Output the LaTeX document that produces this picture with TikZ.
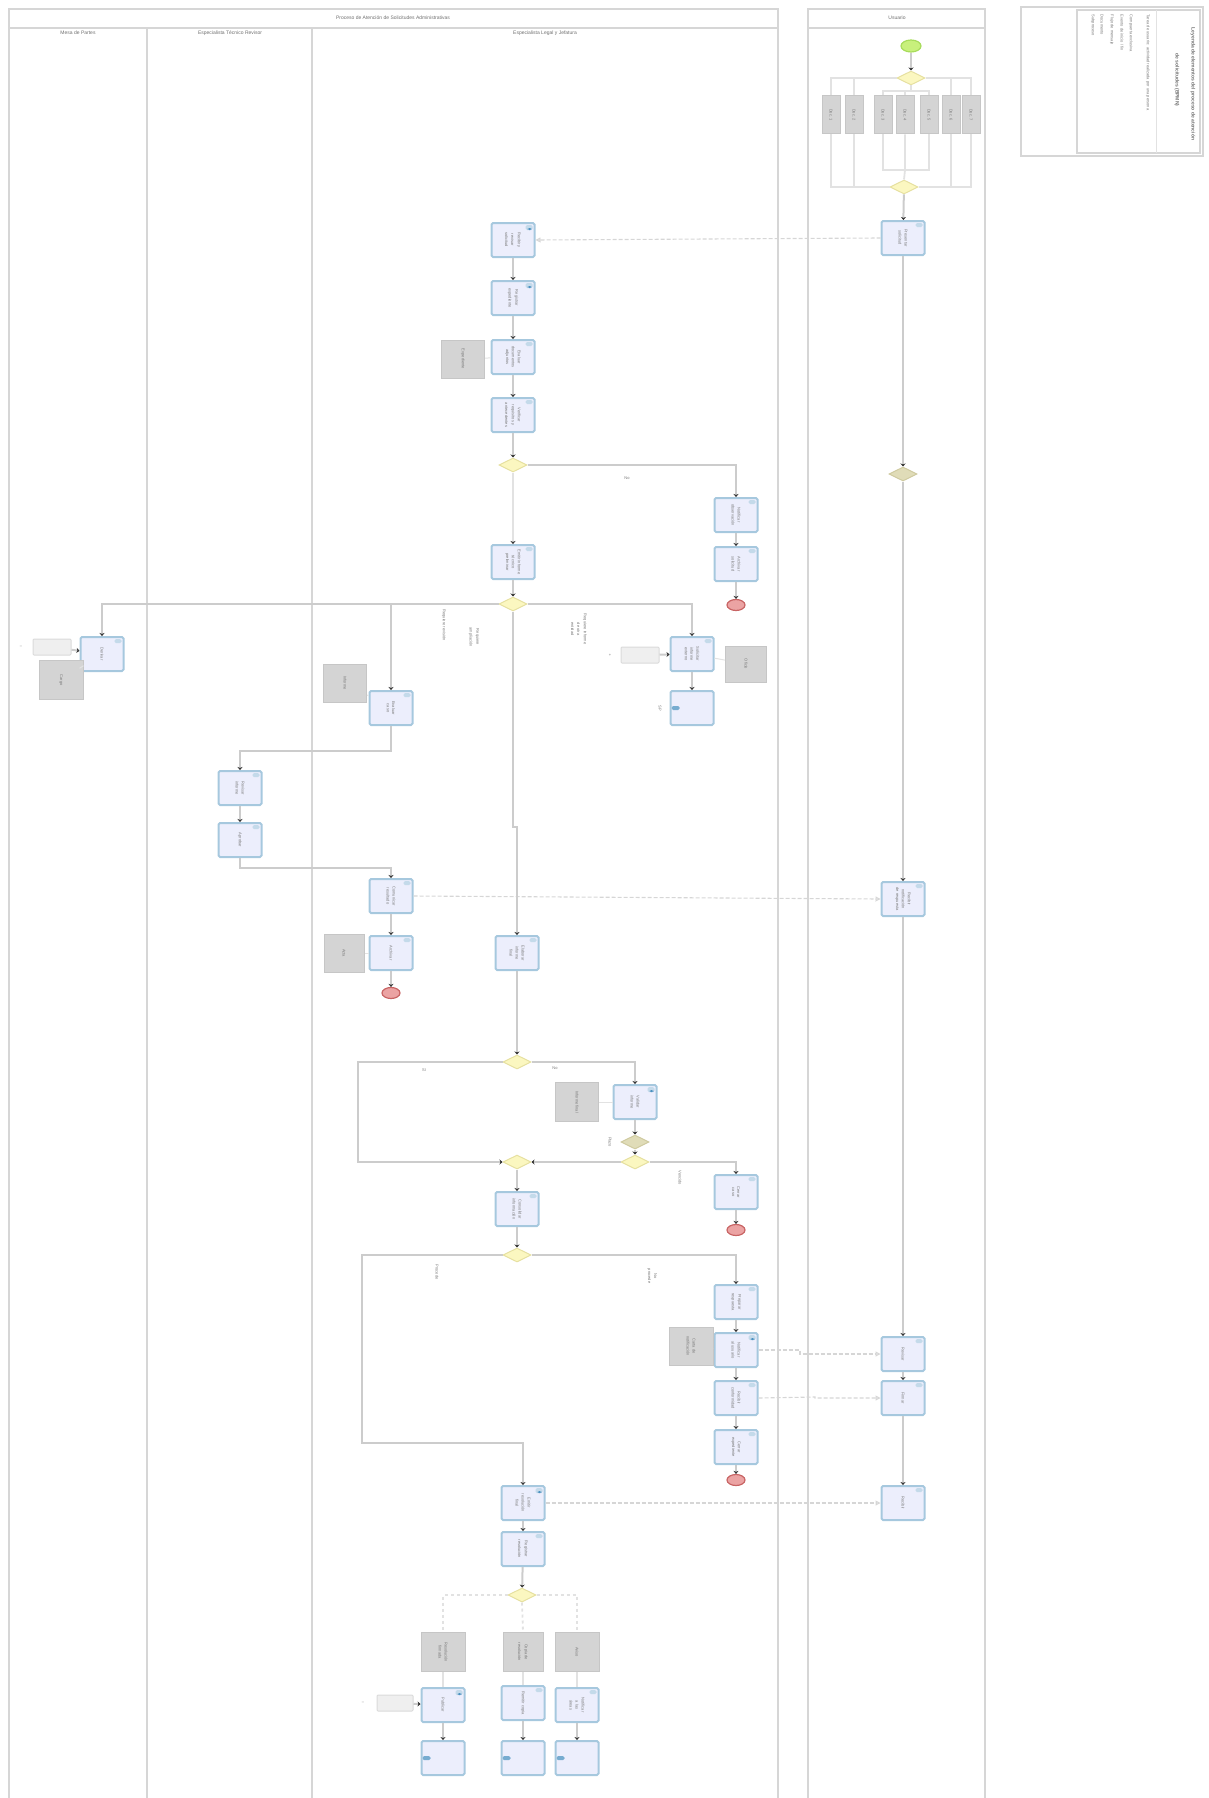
\documentclass[tikz,border=0pt]{standalone}
\usepackage{fontspec}
\setmainfont{Liberation Sans}
\usetikzlibrary{shapes.geometric,arrows.meta,calc}
\definecolor{taskf}{HTML}{ECEEFC}
\definecolor{taskb}{HTML}{A6C8DE}
\definecolor{markc}{HTML}{C4DAEA}
\definecolor{markd}{HTML}{4A90C0}
\definecolor{gatef}{HTML}{FBF7C0}
\definecolor{gateb}{HTML}{E6E0A0}
\definecolor{olivef}{HTML}{E0DCB8}
\definecolor{oliveb}{HTML}{CFCAA0}
\definecolor{endf}{HTML}{EBA3A3}
\definecolor{endb}{HTML}{C86464}
\definecolor{startf}{HTML}{C8F07C}
\definecolor{startb}{HTML}{A8DC5C}
\definecolor{dataf}{HTML}{D4D4D4}
\definecolor{datab}{HTML}{C6C6C6}
\definecolor{lineg}{HTML}{CCCCCC}
\definecolor{linel}{HTML}{E2E2E2}
\definecolor{arrowc}{HTML}{333333}
\definecolor{poolc}{HTML}{D6D6D6}
\definecolor{txtc}{HTML}{7A7A7A}
\definecolor{hdrc}{HTML}{707070}
\definecolor{msgc}{HTML}{D6D6D6}
\definecolor{rectf}{HTML}{EFEFEF}
\definecolor{rectb}{HTML}{DADADA}
\newcommand\vt[1]{\rotatebox{-90}{\shortstack{#1}}}
\tikzset{
 task/.style={draw=taskb, fill=taskf, line width=2pt, rounded corners=1.5pt,
   minimum width=43pt, minimum height=34pt, inner sep=0pt,
   font=\fontsize{4}{4.4}\selectfont, text=txtc,
   path picture={\fill[markc] ([xshift=-9pt,yshift=-2pt]path picture bounding box.north east) rectangle ++(7pt,-4pt);}},
 taskd/.style={task,
   path picture={\fill[markc] ([xshift=-9pt,yshift=-2pt]path picture bounding box.north east) rectangle ++(7pt,-5pt);
                 \fill[markd] ([xshift=-7pt,yshift=-5pt]path picture bounding box.north east) rectangle ++(4pt,-2pt);}},
 callt/.style={task,
   path picture={\fill[markd!75] ([xshift=1pt,yshift=2pt]path picture bounding box.west) rectangle ++(8pt,-4pt);}},
 gate/.style={diamond, aspect=2, draw=gateb, fill=gatef, line width=1pt,
   minimum width=28pt, minimum height=14pt, inner sep=0pt},
 ogate/.style={gate, draw=oliveb, fill=olivef},
 endev/.style={ellipse, draw=endb, fill=endf, line width=1.2pt, minimum width=18pt, minimum height=11pt, inner sep=0pt},
 startev/.style={ellipse, draw=startb, fill=startf, line width=1.2pt, minimum width=20pt, minimum height=12pt, inner sep=0pt},
 dataobj/.style={draw=datab, fill=dataf, line width=1pt, minimum width=43pt, minimum height=38pt, inner sep=0pt,
   font=\fontsize{4}{4.4}\selectfont, text=txtc},
 edata/.style={dataobj, minimum width=18pt, minimum height=38pt},
 lrect/.style={draw=rectb, fill=rectf, line width=1pt, rounded corners=1pt, minimum width=38pt, minimum height=16pt, inner sep=0pt},
 pool/.style={draw=poolc, line width=2.5pt},
 hdr/.style={font=\fontsize{5}{6}\selectfont, text=hdrc, inner sep=1pt},
 lbl/.style={font=\fontsize{4}{4.4}\selectfont, text=txtc, inner sep=0.5pt},
 flow/.style={draw=lineg, line width=2pt, -{Stealth[length=3pt,width=5pt,color=arrowc]}},
 lflow/.style={draw=linel, line width=1.8pt},
 assoc/.style={draw=linel, line width=1pt},
 msg/.style={draw=msgc, line width=1.1pt, dash pattern=on 4pt off 2pt, -{Triangle[open,length=5pt,width=5pt]}},
}
\begin{document}
\begin{tikzpicture}[x=1pt,y=-1pt]
\useasboundingbox (0,0) rectangle (1208,1798);
% ---------------- pools and lanes
\draw[pool] (9,9) rectangle (778,1808);
\draw[pool] (9,28) -- (778,28);
\draw[pool] (147,28) -- (147,1808);
\draw[pool] (312,28) -- (312,1808);
\node[hdr] (ptitle) at (393,18) {Proceso de Atención de Solicitudes Administrativas};
\node[hdr] (lane1) at (78,33) {Mesa de Partes};
\node[hdr] (lane2) at (230,33) {Especialista Técnico Revisor};
\node[hdr] (lane3) at (545,33) {Especialista Legal y Jefatura};
\draw[pool] (808,9) rectangle (985,1808);
\draw[pool] (808,28) -- (985,28);
\node[hdr] (ptitle2) at (897,18) {Usuario};
% ---------------- legend
\draw[draw=poolc, line width=1.5pt] (1021,7) rectangle (1203,156);
\draw[draw=poolc, line width=2pt] (1077,10) rectangle (1200,153);
\draw[draw=linel, line width=1pt] (1156,10) -- (1156,153);
\node[hdr, rotate=-90, font=\bfseries\fontsize{5}{6}\selectfont] (lg1) at (1193,84) {Leyenda de elementos del proceso de atención};
\node[hdr, rotate=-90, font=\bfseries\fontsize{5}{6}\selectfont] (lg2) at (1177,80) {de solicitudes (BPMN)};
\node[lbl, rotate=-90, anchor=west] (lg3) at (1148,14) {Tarea de usuario: actividad realizada por una persona};
\node[lbl, rotate=-90, anchor=west] (lg4) at (1131,14) {Compuerta exclusiva};
\node[lbl, rotate=-90, anchor=west] (lg5) at (1122,14) {Evento de inicio / fin};
\node[lbl, rotate=-90, anchor=west] (lg6) at (1112,14) {Flujo de mensaje};
\node[lbl, rotate=-90, anchor=west] (lg7) at (1102,14) {Documento};
\node[lbl, rotate=-90, anchor=west] (lg8) at (1093,14) {Subproceso};
% ---------------- Usuario pool
\node[startev] (S) at (911,46) {};
\node[gate] (GE1) at (911,78) {};
\foreach \n/\x in {1/831,2/854,3/883,4/905,5/929,6/951,7/971}{
  \node[edata] (De\n) at (\x,115) {\rotatebox{-90}{Doc. \n}};
}
\node[gate] (GE2) at (904,187) {};
\draw[lflow] (GE1.west) -| (De1.north);
\draw[lflow] (GE1.west) -| (De2.north);
\draw[lflow] (GE1.east) -| (De6.north);
\draw[lflow] (GE1.east) -| (De7.north);
\draw[lflow] (GE1.south) -- (911,91) -| (De3.north);
\draw[lflow] (911,91) -| (De5.north);
\draw[lflow] (911,91) -| (De4.north);
\draw[lflow] (De1.south) |- (GE2.west);
\draw[lflow] (De2.south) |- (GE2.west);
\draw[lflow] (De7.south) |- (GE2.east);
\draw[lflow] (De6.south) |- (GE2.east);
\draw[lflow] (De3.south) |- (904,170);
\draw[lflow] (De5.south) |- (904,170);
\draw[lflow] (De4.south) -- (905,170) -- (GE2.north);
\draw[flow] (S) -- (GE1);
\node[task] (E1) at (903,238) {\vt{Presentar\\solicitud}};
\node[ogate] (GX) at (903,474) {};
\node[task] (E2) at (903,899) {\vt{Recibir\\notificación\\de respuesta}};
\node[task] (E3) at (903,1354) {\vt{Revisar}};
\node[task] (E4) at (903,1398) {\vt{Firmar}};
\node[task] (E5) at (903,1503) {\vt{Recibir}};
\draw[flow] (GE2) -- (E1);
\draw[flow] (E1) -- (GX);
\draw[flow] (GX) -- (E2);
\draw[flow] (E2) -- (E3);
\draw[flow] (E3) -- (E4);
\draw[flow] (E4) -- (E5);
% ---------------- main lane 3: top column
\node[taskd] (T1) at (513,240) {\vt{Recibir y\\revisar\\solicitud}};
\node[taskd] (T2) at (513,298) {\vt{Registrar\\expediente}};
\node[task] (T3) at (513,357) {\vt{Evaluar\\documentos\\adjuntos}};
\node[dataobj] (DA) at (463,359) {\rotatebox{-90}{Expediente}};
\node[task] (T4) at (513,415) {\vt{Verificar\\requisitos y\\antecedentes}};
\node[gate] (G1) at (513,465) {};
\node[task] (T5) at (736,515) {\vt{Notificar\\observación}};
\node[task] (T6) at (736,564) {\vt{Archivar\\solicitud}};
\node[endev] (End1) at (736,605) {};
\node[task] (T7) at (513,562) {\vt{Emitir informe\\técnico\\preliminar}};
\node[gate] (G2) at (513,604) {};
\node[lbl] (lb1) at (627,478) {No};
\draw[flow] (T1) -- (T2);
\draw[flow] (T2) -- (T3);
\draw[flow] (T3) -- (T4);
\draw[flow] (T4) -- (G1);
\draw[flow] (G1.east) -| (T5.north);
\draw[flow] (T5) -- (T6);
\draw[flow] (T6) -- (End1);
\draw[flow, draw=linel] (G1) -- (T7);
\draw[flow] (T7) -- (G2);
\draw[assoc] (DA) -- (T3);
\draw[msg] (E1.west) -- (T1.east);
% ---------------- branches of G2
\node[task] (L1) at (102,654) {\vt{Derivar}};
\node[lrect] (R1) at (52,647) {};
\node[lbl] (lbR1) at (21,647) {--};
\node[dataobj, minimum width=44pt, minimum height=39pt] (DB) at (61,680) {\rotatebox{-90}{Cargo}};
\node[task] (T8) at (391,708) {\vt{Evaluar\\caso}};
\node[dataobj] (DC) at (345,683) {\rotatebox{-90}{Informe}};
\node[task] (T10) at (692,654) {\vt{Solicitar\\informe\\externo}};
\node[lrect] (R2) at (640,655) {};
\node[lbl] (lbR2) at (610,655) {+};
\node[dataobj, minimum width=41pt, minimum height=36pt] (DD) at (746,664) {\rotatebox{-90}{Oficio}};
\node[callt] (T11) at (692,708) {};
\node[lbl] (lbT11) at (660,708) {\rotatebox{-90}{SP}};
\node[lbl, rotate=-90] (lb2) at (444,625) {Requiere revisión};
\node[lbl, rotate=-90] (lb3) at (474,637) {\shortstack{Requiere\\ampliación}};
\node[lbl, rotate=-90] (lb4) at (579,629) {\shortstack{Requiere informe\\de otra\\entidad}};
\draw[flow] (G2.west) -| (L1.north);
\draw[flow] (G2.west) -| (T8.north);
\draw[flow] (G2.east) -| (T10.north);
\draw[flow] (R1) -- (L1);
\draw[flow] (R2) -- (T10);
\draw[assoc] (DB) -- (L1);
\draw[assoc] (DC) -- (T8);
\draw[assoc] (DD) -- (T10);
\draw[flow] (T10) -- (T11);
% lane 2 tasks
\node[task] (L2a) at (240,788) {\vt{Revisar\\informe}};
\node[task] (L2b) at (240,840) {\vt{Aprobar}};
\node[task] (T12) at (391,896) {\vt{Comunicar\\resultado}};
\node[task] (T13) at (391,953) {\vt{Archivar}};
\node[dataobj, minimum width=40pt] (DE) at (344,953) {\rotatebox{-90}{Acta}};
\node[endev] (End2) at (391,993) {};
\draw[flow] (T8.south) -- (391,751) -| (L2a.north);
\draw[flow] (L2a) -- (L2b);
\draw[flow] (L2b.south) -- (240,868) -| (T12.north);
\draw[flow] (T12) -- (T13);
\draw[flow] (T13) -- (End2);
\draw[assoc] (DE) -- (T13);
\draw[msg] (T12.east) -- (E2.west);
% main column continues
\node[task] (T9) at (517,953) {\vt{Elaborar\\informe\\final}};
\draw[flow] (G2.south) -- (513,827) -- (517,827) -- (T9.north);
\node[gate] (G3) at (517,1062) {};
\node[taskd] (T14) at (635,1102) {\vt{Validar\\informe}};
\node[dataobj, minimum height=39pt] (DF) at (577,1102) {\rotatebox{-90}{Informe final}};
\node[ogate, aspect=2.4] (OE) at (635,1142) {};
\node[lbl] (lbOE) at (610,1142) {\rotatebox{-90}{Plazo}};
\node[gate] (G5) at (635,1162) {};
\node[gate] (G4) at (517,1162) {};
\node[task] (T15) at (736,1192) {\vt{Cerrar\\caso}};
\node[endev] (End3) at (736,1230) {};
\node[task] (T16) at (517,1209) {\vt{Consolidar\\información}};
\node[gate] (G6) at (517,1255) {};
\node[lbl] (lb5) at (424,1070) {Sí};
\node[lbl] (lb6) at (555,1068) {No};
\node[lbl, rotate=-90] (lb7) at (680,1178) {Vencido};
\draw[flow] (T9) -- (G3);
\draw[flow] (G3.west) -- (358,1062) -- (358,1162) -- (G4.west);
\draw[flow] (G3.east) -| (T14.north);
\draw[assoc] (DF) -- (T14);
\draw[flow] (T14) -- (OE);
\draw[flow] (OE) -- (G5);
\draw[flow] (G5.west) -- (G4.east);
\draw[flow] (G5.east) -| (T15.north);
\draw[flow] (T15) -- (End3);
\draw[flow] (G4) -- (T16);
\draw[flow] (T16) -- (G6);
% G6 branches
\node[task] (T17) at (736,1302) {\vt{Preparar\\respuesta}};
\node[taskd] (T18) at (736,1350) {\vt{Notificar\\al usuario}};
\node[dataobj, minimum width=44pt] (DG) at (691,1346) {\rotatebox{-90}{\shortstack{Carta de\\notificación}}};
\node[task] (T18b) at (736,1398) {\vt{Recibir\\conformidad}};
\node[task] (T18c) at (736,1447) {\vt{Cerrar\\expediente}};
\node[endev] (End4) at (736,1480) {};
\node[lbl, rotate=-90] (lb8) at (437,1272) {Procede};
\node[lbl, rotate=-90] (lb9) at (652,1276) {\shortstack{No\\procede}};
\node[taskd] (T19) at (523,1503) {\vt{Emitir\\resolución\\final}};
\node[task] (T20) at (523,1549) {\vt{Registrar\\resolución}};
\node[gate] (G7) at (522,1595) {};
\draw[flow] (G6.east) -| (T17.north);
\draw[flow] (T17) -- (T18);
\draw[flow] (T18) -- (T18b);
\draw[flow] (T18b) -- (T18c);
\draw[flow] (T18c) -- (End4);
\draw[assoc] (DG) -- (T18);
\draw[flow] (G6.west) -- (362,1255) -- (362,1443) -- (523,1443) -- (T19.north);
\draw[flow] (T19) -- (T20);
\draw[flow] (T20) -- (G7);
\draw[msg] (T18.east) -- (800,1350) -- (800,1354) -- (E3.west);
\draw[msg] (T18b.east) -- (815,1397) -- (815,1398) -- (E4.west);
\draw[msg] (T19.east) -- (710,1503) -- (E5.west);
% bottom
\node[dataobj, minimum width=44pt, minimum height=39pt] (DH) at (443,1652) {\rotatebox{-90}{\shortstack{Resolución\\firmada}}};
\node[dataobj, minimum width=40pt, minimum height=39pt] (DI) at (523,1652) {\rotatebox{-90}{\shortstack{Copia de\\resolución}}};
\node[dataobj, minimum width=44pt, minimum height=39pt] (DJ) at (577,1652) {\rotatebox{-90}{Aviso}};
\node[taskd] (T21) at (443,1705) {\vt{Publicar}};
\node[task] (T22) at (523,1703) {\vt{Remitir copia}};
\node[task] (T23) at (577,1705) {\vt{Notificar\\a las\\áreas}};
\node[lrect, minimum width=36pt] (R3) at (395,1703) {};
\node[lbl] (lbR3) at (363,1703) {--};
\node[callt] (T24) at (443,1758) {};
\node[callt] (T25) at (523,1758) {};
\node[callt] (T26) at (577,1758) {};
\draw[lflow, dashed] (G7.west) -| (DH.north);
\draw[lflow, dashed] (G7.south) -- (DI.north);
\draw[lflow, dashed] (G7.east) -| (DJ.north);
\draw[lflow] (DH) -- (T21);
\draw[lflow] (DI) -- (T22);
\draw[lflow] (DJ) -- (T23);
\draw[flow] (R3) -- (T21);
\draw[flow] (T21) -- (T24);
\draw[flow] (T22) -- (T25);
\draw[flow] (T23) -- (T26);
\end{tikzpicture}
\end{document}
